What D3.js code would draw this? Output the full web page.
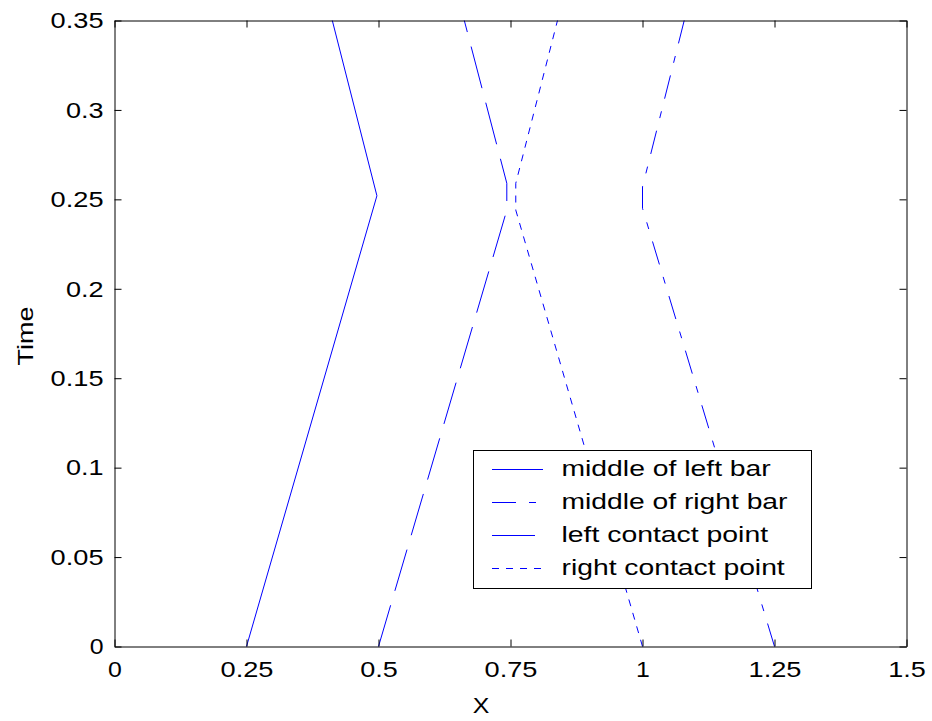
<!DOCTYPE html>
<html>
<head>
<meta charset="utf-8">
<script src="https://cdn.jsdelivr.net/npm/d3@7"></script>
<style>
  html, body { margin: 0; padding: 0; background: #fff; }
  svg text { font-family: "Liberation Sans", Arial, Helvetica, sans-serif; fill: #000; }
</style>
</head>
<body>
<svg id="chart" width="932" height="721"></svg>
<script>
// Tick values on each axis
const xTicks = [0, 0.25, 0.5, 0.75, 1, 1.25, 1.5];
const yTicks = [0, 0.05, 0.1, 0.15, 0.2, 0.25, 0.3, 0.35];
const xTickLabels = ["0", "0.25", "0.5", "0.75", "1", "1.25", "1.5"];
const yTickLabels = ["0", "0.05", "0.1", "0.15", "0.2", "0.25", "0.3", "0.35"];

// Trajectories: position X against Time
const midLeftX = [0.25, 0.497, 0.4125];
const midLeftT = [0, 0.252, 0.35];

const midRightX = [1.25, 1.0, 1.0, 1.079];
const midRightT = [0, 0.245, 0.257, 0.35];

const leftContactX = [0.5, 0.743, 0.743, 0.6625];
const leftContactT = [0, 0.244, 0.259, 0.35];

const rightContactX = [1.0, 0.760, 0.760, 0.839];
const rightContactT = [0, 0.244, 0.259, 0.35];

const seriesNames = ["middle of left bar", "middle of right bar", "left contact point", "right contact point"];

const svg = d3.select("#chart");
const FONT = 22;

// Wide lettering: widen glyphs a little and open up the spacing
function widen(sel) {
  sel.attr("font-size", FONT)
     .attr("font-family", "Liberation Sans, Arial, sans-serif")
     .attr("fill", "#000")
     .each(function () {
       const n = this.textContent.length;
       const w = this.getComputedTextLength();
       if (w > 0) {
         d3.select(this)
           .attr("textLength", w * 1.13 + Math.max(n - 1, 0) * 1.5)
           .attr("lengthAdjust", "spacingAndGlyphs");
       }
     });
}

const x = d3.scaleLinear().domain([0, 1.5]).range([114.5, 906.5]);
const y = d3.scaleLinear().domain([0, 0.35]).range([646.5, 20.5]);

const series = [
  { name: seriesNames[0], xs: midLeftX, ts: midLeftT, dash: null },
  { name: seriesNames[1], xs: midRightX, ts: midRightT, dash: "24,13,7,13" },
  { name: seriesNames[2], xs: leftContactX, ts: leftContactT, dash: "43,15" },
  { name: seriesNames[3], xs: rightContactX, ts: rightContactT, dash: "7,7" }
];

// Data lines
const line = d3.line().x(d => x(d[0])).y(d => y(d[1]));
svg.append("g").selectAll("path")
  .data(series)
  .join("path")
  .attr("d", s => line(s.xs.map((v, i) => [v, s.ts[i]])))
  .attr("fill", "none")
  .attr("stroke", "#0000ff")
  .attr("stroke-width", 1)
  .attr("stroke-dasharray", s => s.dash);

// Axes with inward ticks on all four sides
function styleAxis(g) {
  g.selectAll("path.domain").attr("stroke", "#000").attr("stroke-width", 1);
  g.selectAll(".tick line").attr("stroke", "#000").attr("stroke-width", 1);
}

svg.append("g")
  .attr("transform", `translate(0,${y(0)})`)
  .call(d3.axisBottom(x).tickValues(xTicks)
    .tickFormat((d, i) => xTickLabels[i])
    .tickSizeInner(-7).tickSizeOuter(0).tickPadding(15))
  .call(styleAxis)
  .selectAll(".tick text").call(widen);

svg.append("g")
  .attr("transform", `translate(${x(0)},0)`)
  .call(d3.axisLeft(y).tickValues(yTicks)
    .tickFormat((d, i) => yTickLabels[i])
    .tickSizeInner(-7).tickSizeOuter(0).tickPadding(11))
  .call(styleAxis)
  .selectAll(".tick text").attr("dy", "0.33em").call(widen);

svg.append("g")
  .attr("transform", `translate(0,${y(0.35)})`)
  .call(d3.axisTop(x).tickValues(xTicks).tickFormat("")
    .tickSizeInner(-7).tickSizeOuter(0))
  .call(styleAxis);

svg.append("g")
  .attr("transform", `translate(${x(1.5)},0)`)
  .call(d3.axisRight(y).tickValues(yTicks).tickFormat("")
    .tickSizeInner(-7).tickSizeOuter(0))
  .call(styleAxis);

// Axis titles
svg.append("text")
  .attr("x", 481).attr("y", 713)
  .attr("text-anchor", "middle")
  .text("X")
  .call(widen);

svg.append("text")
  .attr("transform", "translate(33,336) rotate(-90)")
  .attr("text-anchor", "middle")
  .text("Time")
  .call(widen);

// Legend
const legend = svg.append("g");
legend.append("rect")
  .attr("x", 473.5).attr("y", 450.5)
  .attr("width", 338).attr("height", 138)
  .attr("fill", "#fff").attr("stroke", "#000").attr("stroke-width", 1);

const rowY = d3.scalePoint().domain(seriesNames).range([469.5, 568.5]);
const rows = legend.selectAll("g.row").data(series).join("g")
  .attr("class", "row")
  .attr("transform", s => `translate(0,${rowY(s.name)})`);
rows.append("line")
  .attr("x1", 492).attr("x2", 543).attr("y1", 0).attr("y2", 0)
  .attr("stroke", "#0000ff").attr("stroke-width", 1)
  .attr("stroke-dasharray", s => s.dash);
rows.append("text")
  .attr("x", 561.5).attr("y", 6.8)
  .text(s => s.name)
  .call(widen);
</script>
</body>
</html>
